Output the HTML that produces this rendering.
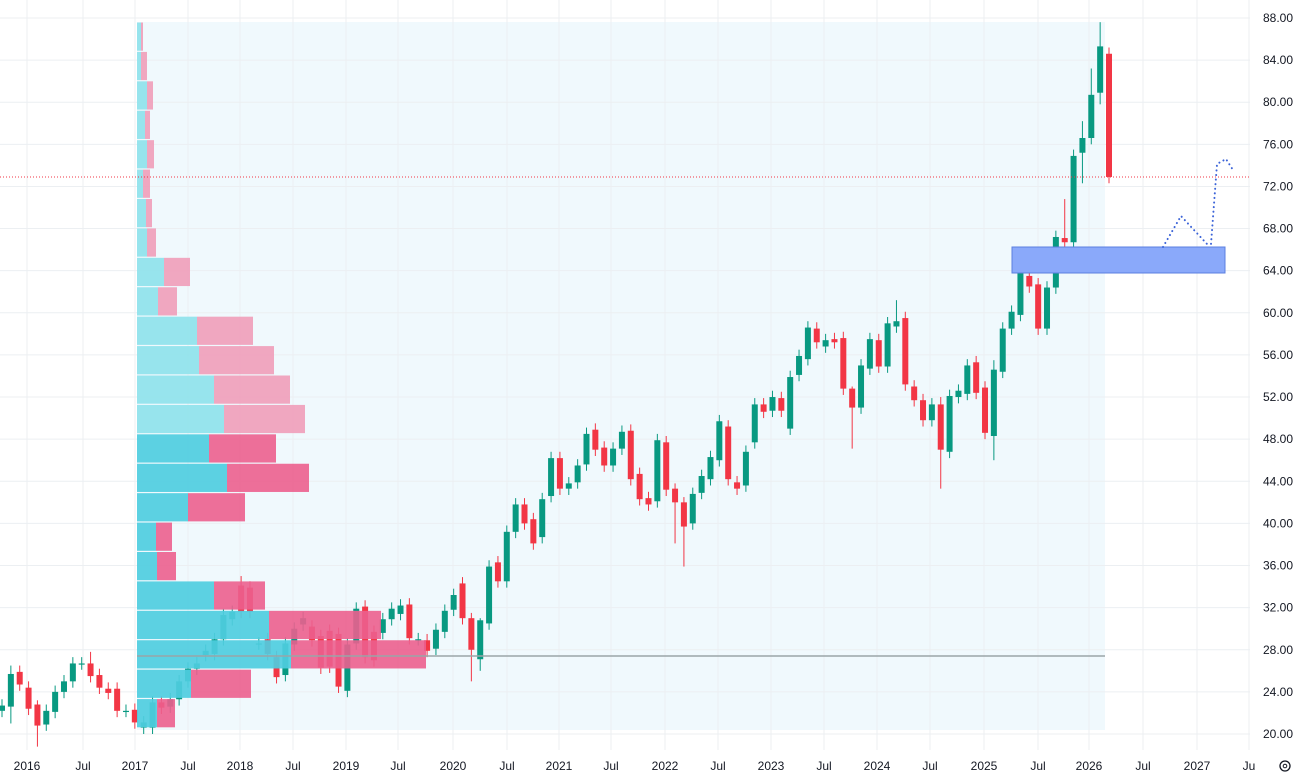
<!DOCTYPE html>
<html><head><meta charset="utf-8"><style>
html,body{margin:0;padding:0;background:#fff;width:1298px;height:777px;overflow:hidden}
svg{display:block;font-family:"Liberation Sans",sans-serif}
</style></head><body>
<svg id="s" width="1298" height="777" xmlns="http://www.w3.org/2000/svg"></svg>
<script>
const S=document.getElementById('s');let h='';
const Y=p=>734-(p-20)*10.53;
const xt=[[27,'2016'],[83,'Jul'],[135,'2017'],[188,'Jul'],[240,'2018'],[293,'Jul'],[346,'2019'],[398,'Jul'],[453,'2020'],[507,'Jul'],[559,'2021'],[611,'Jul'],[665,'2022'],[718,'Jul'],[771,'2023'],[824,'Jul'],[877,'2024'],[930,'Jul'],[984,'2025'],[1038,'Jul'],[1089,'2026'],[1143,'Jul'],[1197,'2027'],[1249,'Ju']];
h+=`<rect x="137" y="22" width="968" height="708" fill="#f0f9fd"/>`;
for(const [x] of xt) if(x<1250) h+=`<line x1="${x}" y1="0" x2="${x}" y2="750" stroke="#eceff2" stroke-width="1"/>`;
for(let p=20;p<=88;p+=4){const y=Y(p);h+=`<line x1="0" y1="${y}" x2="1250" y2="${y}" stroke="#eceff2"/>`;h+=`<text x="1263" y="${y+4}" font-size="12" fill="#131722">${p.toFixed(2)}</text>`;}
for(const [x,t] of xt) h+=`<text x="${x}" y="770" font-size="12" fill="#131722" text-anchor="middle">${t}</text>`;
const D=[[22.2,22.7],[22.6,25.7,26.5,21],[25.9,24.7],[24.4,22.4],[22.8,20.8,23.2,18.8],[20.9,22.2],[22.1,24.0],[24.0,25.0],[25.0,26.7],[26.7,26.7],[26.7,25.5,27.8],[25.6,24.4],[24.3,23.9],[24.3,22.2],[22.2,22.2],[22.3,21.1],[20.6,21.1],[20.6,23.0],[23.0,22.5],[22.6,23.3],[23.3,25.0],[25.0,26.2],[26.2,26.7],[27.5,27.9],[27.6,29.0],[29.0,31.3],[30.9,31.6],[34.1,31.6,35],[33.9,31.6],[28.6,28.6],[29,27.6],[27.3,25.4],[25.6,28.6],[28.5,30],[30.4,31],[30.2,28.9],[29.3,26.3],[29.8,26.4],[29.5,24.5],[24.1,28.5],[28.6,31.9],[32.1,27.3],[29.7,27.0],[29.6,30.9],[30.9,31.9],[31.4,32.2],[32.3,29.1],[29.0,29.0],[28.9,27.9],[28.1,29.9],[29.7,31.7],[31.8,33.2],[34.3,31.0],[31.0,28.0,31.5,25],[27.1,30.8,31,26],[30.5,35.9],[36.3,34.5],
[34.5,39.2],[39.2,41.8],[41.8,40.0],[40.4,38.1],[38.7,42.3],[42.6,46.2],[46.2,43.3],[43.3,43.8],[43.9,45.5],[45.6,48.5],[48.9,47.0],[47.2,45.5],[45.5,47.1],[47.1,48.7],[48.8,44.2],[44.7,42.3],[42.4,41.8],[42.1,47.9],[47.7,43.2],[43.3,42.0,43.8,38.1],[42,39.7,42.5,35.9],[40,42.8],[42.9,44.5],[44.2,46.3],[46.0,49.7],[49.2,44.2],[43.9,43.3],[43.6,46.8],[47.7,51.3],[51.3,50.6],[50.7,52.0],[51.9,50.7],[49.0,53.9],[54.1,55.9],[55.6,58.6],[58.5,57.2],[56.8,57.4],[57.5,57.2],[57.6,52.8],[52.8,51.0,53,47.1],[51.0,55.0],[54.7,57.5],[57.4,54.9],[54.9,59.0],[58.7,59.2,61.2],[59.5,53.2],[53.0,51.7],[51.7,49.8],[49.8,51.3],[51.3,47.0,52,43.3],[46.8,52.1],[52.0,52.6],[52.3,55.0],[55.3,52.4],[52.9,48.6],[48.3,54.6,55.5,46],
[54.4,58.5],[58.5,60.1],[59.8,63.9],[63.5,62.5],[62.7,58.5],[58.5,62.4],[62.4,67.2],[67.1,66.7,70.8],[66.7,74.9],[75.2,76.6,78.2,72.3],[76.6,80.7,83.2],[80.9,85.3,87.6,79.8],[84.6,72.9,85.2,72.3]];
const sp=(1109-2)/(D.length-1);
D.forEach((d,i)=>{const [o,c]=d;const hi=d[2]!==undefined?d[2]:Math.max(o,c)+0.6;const lo=d[3]!==undefined?d[3]:Math.min(o,c)-0.6;
const x=2+i*sp;const col=c>=o?'#089981':'#f23645';const t=Y(Math.max(o,c)),b=Y(Math.min(o,c));
h+=`<line x1="${x}" y1="${Y(hi)}" x2="${x}" y2="${Y(lo)}" stroke="${col}" stroke-width="1"/>`;
h+=`<rect x="${x-3}" y="${t}" width="6" height="${Math.max(1.2,b-t)}" fill="${col}"/>`;});
const R=[[141,143],[141,147],[147,153],[145,150],[147,154],[143,150],[146,152],[147,156],[164,190],[158,177],[197,253],[199,274],[214,290],[224,305],[209,276],[227,309],[188,245],[156,172],[157,176],[214,265],[269,381],[291,426],[191,251],[157,175]];
const rt=22,rh=(728-22)/24;
R.forEach((r,i)=>{const y=rt+i*rh;const sat=i>=14;const cy=sat?'#4fcde0':'#8fe2ec',pk=sat?'#ec5f8e':'#f09db9';
h+=`<rect x="137" y="${y+0.5}" width="${r[0]-137}" height="${rh-1.2}" fill="${cy}" opacity="0.92"/>`;
h+=`<rect x="${r[0]}" y="${y+0.5}" width="${r[1]-r[0]}" height="${rh-1.2}" fill="${pk}" opacity="0.9"/>`;});
h+=`<line x1="137" y1="656" x2="1105" y2="656" stroke="#9aa5a8" stroke-width="1.5"/>`;
h+=`<line x1="0" y1="177" x2="1250" y2="177" stroke="#f23645" stroke-width="1" stroke-dasharray="1,2"/>`;
h+=`<rect x="1012" y="247" width="213" height="26" fill="#8aa9fa" stroke="#5b7fe0" stroke-width="1"/>`;
h+=`<polyline points="1163,247 1181,216 1207,244 1211,244 1217,164 1226,159 1233,170" fill="none" stroke="#3b63d8" stroke-width="2" stroke-dasharray="0.1,4.5" stroke-linecap="round"/>`;
h+=`<circle cx="1285" cy="766" r="5" fill="none" stroke="#131722" stroke-width="1.3"/><circle cx="1285" cy="766" r="1.8" fill="none" stroke="#131722"/>`;
S.innerHTML=h;
</script>
</body></html>
